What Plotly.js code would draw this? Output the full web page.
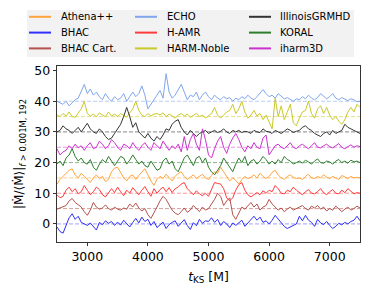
<!DOCTYPE html>
<html>
<head>
<meta charset="utf-8">
<script src="https://cdn.plot.ly/plotly-3.0.1.min.js"></script>
<style>html,body{margin:0;padding:0;background:#fff;}#chart{width:374px;height:291px;}</style>
</head>
<body>
<div id="chart"></div>
<script>
const tKS = [2500,2550,2600,2650,2700,2750,2800,2850,2900,2950,
3000,3050,3100,3150,3200,3250,3300,3350,3400,3450,
3500,3550,3600,3650,3700,3750,3800,3850,3900,3950,
4000,4050,4100,4150,4200,4250,4300,4350,4400,4450,
4500,4550,4600,4650,4700,4750,4800,4850,4900,4950,
5000,5050,5100,5150,5200,5250,5300,5350,5400,5450,
5500,5550,5600,5650,5700,5750,5800,5850,5900,5950,
6000,6050,6100,6150,6200,6250,6300,6350,6400,6450,
6500,6550,6600,6650,6700,6750,6800,6850,6900,6950,
7000,7050,7100,7150,7200,7250,7300,7350,7400,7450,7500];

const codeNames = ["Athena++","BHAC","BHAC Cart.","ECHO","H-AMR","HARM-Noble","IllinoisGRMHD","KORAL","iharm3D"];
const offsets = [15,0,5,40,10,35,30,20,25];

const athena = [13.0,14.5,15.5,16.5,17.5,18.0,16.0,15.0,16.5,15.5,
14.5,13.5,15.0,16.0,14.8,15.5,13.8,14.5,17.0,18.2,
18.5,16.5,15.0,14.0,15.5,16.0,14.5,15.8,17.0,18.0,
16.0,14.0,12.6,14.5,15.5,14.8,16.2,15.0,14.0,15.5,
16.5,17.0,15.5,14.5,15.2,16.0,14.8,15.5,16.2,15.0,
14.5,15.8,17.0,16.5,18.5,17.0,15.5,14.0,15.0,14.2,
13.0,14.5,15.5,14.8,15.2,16.0,15.0,16.5,15.5,14.8,
15.5,16.8,17.5,16.0,15.0,14.5,15.5,16.0,15.2,14.8,
15.0,14.5,15.5,16.2,15.0,14.8,15.5,15.0,16.0,15.2,
14.8,15.5,15.0,14.5,15.8,15.2,14.8,15.5,15.0,15.2,15.0];

const bhac = [-1.0,-2.5,-3.0,-0.5,2.0,3.3,1.5,2.5,0.5,0.0,
-0.5,0.3,-0.8,-2.0,0.5,-0.3,1.0,0.2,0.8,-0.5,
0.6,-0.4,1.2,0.0,-1.0,0.5,1.8,0.3,2.2,0.8,
1.5,-0.5,0.8,-1.2,-0.3,0.6,-1.5,-0.2,0.5,1.0,
-0.8,0.2,1.4,-0.5,-1.8,0.4,-0.6,1.5,0.2,1.0,
0.8,2.0,0.5,1.5,-0.5,0.8,0.0,-1.2,0.3,-0.5,
0.5,1.2,-0.8,0.2,1.5,2.5,1.2,2.2,0.5,1.0,
0.0,1.2,2.8,1.5,0.2,-0.8,-1.5,-1.0,-0.5,0.0,
2.5,1.0,2.8,1.2,0.5,-0.8,1.5,0.3,-0.2,0.8,
-0.5,-1.5,-0.8,0.2,-0.3,0.5,0.0,0.8,1.2,2.5,1.0];

const bhacCart = [4.8,5.2,5.5,6.0,7.5,8.3,7.0,6.2,5.5,4.0,
2.8,4.5,7.0,5.5,4.8,5.2,6.2,5.0,4.5,5.5,
4.8,4.5,5.2,4.8,6.5,5.5,6.8,5.2,4.2,5.0,
3.0,1.8,3.5,5.5,7.5,9.0,8.0,6.0,4.5,3.5,
3.0,4.0,5.2,3.8,4.5,6.0,5.0,4.0,5.5,4.5,
5.0,6.5,8.0,10.0,9.0,6.0,7.5,8.5,3.0,1.5,
3.5,5.5,4.8,6.0,7.0,5.5,6.5,4.5,5.5,6.0,
8.0,6.5,5.5,4.5,5.2,4.0,4.8,5.5,4.5,5.0,
5.5,6.0,5.0,4.5,5.8,5.2,6.0,4.8,5.5,4.2,
5.0,4.5,5.8,5.0,4.0,4.8,5.5,4.5,5.0,5.8,5.2];

const echo = [40.0,39.5,39.0,40.0,38.5,39.5,40.5,41.0,43.5,45.5,
42.5,44.0,42.0,43.0,41.5,40.5,42.5,41.0,40.0,41.5,
40.5,41.0,42.5,40.0,41.5,43.0,41.5,42.5,45.0,42.0,
37.5,39.0,40.5,42.0,43.5,41.0,49.0,43.0,41.0,42.0,
44.0,45.5,43.0,40.5,42.0,41.5,43.0,40.5,42.0,43.0,
41.5,40.5,42.0,41.0,40.5,41.5,40.8,41.2,40.0,41.0,
40.5,41.5,40.8,42.0,41.0,40.5,41.5,42.5,43.8,42.5,
41.5,42.0,41.0,42.5,41.5,40.8,41.2,40.5,40.0,40.8,
40.5,41.5,40.8,42.0,41.0,40.5,41.2,42.5,41.5,40.8,
41.5,42.5,41.0,40.5,41.2,40.8,40.2,40.8,40.5,39.8,40.0];

const hamr = [9.5,8.5,9.0,11.0,12.0,10.5,11.5,9.8,10.5,12.5,
11.0,9.5,10.5,12.0,11.2,9.5,8.8,10.0,11.5,10.2,
12.0,10.5,9.2,11.0,10.0,11.8,10.5,9.5,11.0,12.2,
10.5,9.0,11.5,10.0,11.2,12.0,10.5,11.8,10.2,11.5,
12.0,13.0,13.5,11.5,10.5,9.5,10.8,9.8,9.2,10.0,
9.0,11.5,13.5,13.2,13.0,11.5,8.5,7.5,8.5,11.0,
12.8,13.5,11.0,9.5,8.8,9.5,10.2,9.5,10.8,10.0,
11.0,10.5,12.5,11.5,10.0,9.8,11.0,10.5,12.0,11.0,
10.2,9.5,10.5,11.2,10.0,9.8,10.5,11.5,10.2,9.5,
10.5,11.2,10.0,9.8,11.0,10.2,11.5,10.5,9.8,10.2,10.0];

const harmNoble = [35.5,35.0,36.0,35.2,36.5,35.0,34.8,36.0,37.5,40.0,
36.0,35.2,35.8,35.0,36.2,35.5,35.0,36.5,35.2,35.8,
35.0,36.0,35.5,34.8,36.2,37.5,40.0,37.0,35.5,35.0,
36.0,35.2,35.8,36.0,35.5,36.2,35.0,35.8,35.2,34.5,
35.5,36.0,35.2,35.8,34.8,35.5,36.0,35.0,35.5,34.5,
35.2,36.0,38.0,35.5,34.5,35.5,36.5,37.0,39.0,36.0,
37.5,40.0,36.5,34.5,35.5,37.0,35.2,36.0,34.0,35.5,
33.5,31.0,41.0,35.0,38.5,34.0,36.5,39.0,33.0,32.0,
34.5,36.5,37.0,40.0,36.0,34.5,37.5,38.5,36.0,38.0,
35.5,34.0,35.0,33.5,32.5,34.0,36.5,38.0,36.5,39.0,38.0];

const illinois = [30.0,30.5,32.0,31.0,30.5,29.5,30.5,31.5,30.0,31.5,
32.8,31.0,30.0,29.5,31.0,30.0,28.5,27.5,28.0,29.5,
31.0,32.5,35.0,38.0,35.0,31.5,33.0,30.0,29.0,28.0,
29.5,28.0,27.0,28.5,27.5,29.0,31.0,30.5,32.5,33.5,
34.0,31.5,30.0,29.0,30.5,29.5,28.5,29.5,30.0,30.5,
29.5,30.0,30.5,29.8,30.2,31.0,30.0,29.5,30.5,30.0,
30.5,29.8,30.2,30.0,29.5,30.5,30.0,29.8,31.0,30.2,
30.0,29.5,30.5,30.0,29.5,30.2,31.0,30.5,29.8,30.2,
30.5,31.5,32.0,31.0,30.5,29.5,29.0,28.5,29.5,30.0,
29.0,30.5,29.5,30.0,30.5,32.5,31.5,31.0,30.5,30.0,29.5];

const koral = [19.5,20.5,19.0,21.5,22.5,24.5,22.0,20.5,21.5,20.0,
19.5,21.0,18.5,17.5,19.5,21.0,20.0,22.0,20.5,19.0,
20.5,22.0,21.5,19.5,20.8,22.5,21.0,19.5,20.5,19.0,
18.5,20.5,19.0,17.5,18.0,20.5,21.5,19.5,20.5,18.0,
17.0,19.5,21.5,22.5,20.5,19.0,21.5,22.0,20.0,21.5,
18.5,17.0,16.0,17.5,19.0,21.5,20.0,18.5,17.0,19.5,
21.5,20.0,22.0,19.0,20.5,21.0,19.5,20.5,22.0,21.0,
19.5,20.5,19.5,21.0,20.0,22.0,21.0,20.5,19.5,20.0,
20.5,19.8,20.8,20.2,19.5,20.5,21.2,20.0,19.8,20.5,
20.2,19.5,20.5,21.0,20.0,20.5,19.8,20.8,20.2,20.5,20.0];

const iharm = [24.5,22.5,23.5,24.0,25.5,24.5,26.0,24.8,25.5,24.0,
25.5,26.5,24.5,25.0,27.0,26.0,24.5,25.5,27.5,26.5,
25.0,24.0,26.0,25.5,24.5,26.5,25.0,24.0,25.5,26.5,
25.0,24.0,26.5,25.5,24.5,27.0,25.5,24.0,25.5,24.5,
26.0,23.5,28.5,24.0,27.5,29.5,26.0,24.0,31.0,27.5,
22.5,21.5,24.5,27.0,28.5,25.0,23.0,26.0,28.0,29.5,
27.5,25.0,23.5,25.5,24.5,26.5,25.0,24.5,28.0,29.0,
22.5,24.0,25.5,26.0,25.0,24.5,25.5,26.5,25.0,24.5,
25.5,26.0,25.2,24.5,25.5,26.5,25.0,24.8,25.5,26.0,
25.2,24.8,25.5,26.2,25.0,24.5,25.2,25.8,25.0,25.5,25.2];

const seriesValues = [athena,bhac,bhacCart,echo,hamr,harmNoble,illinois,koral,iharm];
const colors = ["#ffa33f","#3030f8","#b5524d","#7fa6ee","#ff3b3b","#c9c92a","#333333","#2e7d2e","#cc33cc"];
const dashColors = ["rgba(255,163,63,0.55)","rgba(48,48,248,0.45)","rgba(181,82,77,0.55)","rgba(127,166,238,0.55)","rgba(255,59,59,0.5)","rgba(201,201,42,0.55)","rgba(51,51,51,0.6)","rgba(46,125,46,0.55)","rgba(204,51,204,0.5)"];

const traces = [];
for (let k = 0; k < codeNames.length; k++) {
  traces.push({
    x: [tKS[0], tKS[tKS.length-1]], y: [offsets[k], offsets[k]],
    mode: 'lines', line: {color: dashColors[k], width: 1, dash: '4px,2px'},
    showlegend: false, hoverinfo: 'skip'
  });
}
for (let k = 0; k < codeNames.length; k++) {
  traces.push({
    x: tKS, y: seriesValues[k], name: codeNames[k],
    mode: 'lines', line: {color: colors[k], width: 1}, showlegend: false
  });
}

// manual legend (3 columns, column-major), in pixel -> paper coordinates
const M = {l: 57, r: 14, t: 66, b: 49};
const W = 374, H = 291;
const pw = W - M.l - M.r, ph = H - M.t - M.b;
const px = v => (v - M.l) / pw;
const py = v => (H - M.b - v) / ph;
const shapes = [{
  type: 'rect', xref: 'paper', yref: 'paper',
  x0: px(27), x1: px(354), y0: py(57), y1: py(10),
  fillcolor: '#f2f2f2', line: {width: 0}, layer: 'below'
}];
const annotations = [];
const colLineX = [29, 135, 249];
const colTextX = [59, 165, 278];
const rowY = [16.8, 32.6, 48.4];
for (let k = 0; k < codeNames.length; k++) {
  const c = Math.floor(k / 3), r = k % 3;
  shapes.push({
    type: 'line', xref: 'paper', yref: 'paper',
    x0: px(colLineX[c]), x1: px(colLineX[c] + 22), y0: py(rowY[r]), y1: py(rowY[r]),
    line: {color: colors[k], width: 2}
  });
  annotations.push({
    xref: 'paper', yref: 'paper', x: px(colTextX[c]), y: py(rowY[r]),
    xanchor: 'left', yanchor: 'middle', showarrow: false,
    text: codeNames[k], font: {family: 'DejaVu Sans', size: 10, color: '#000'}
  });
}

const layout = {
  width: W, height: H,
  margin: M,
  paper_bgcolor: '#ffffff', plot_bgcolor: '#ffffff',
  font: {family: 'DejaVu Sans', size: 12.5, color: '#000'},
  showlegend: false,
  shapes: shapes, annotations: annotations,
  xaxis: {
    range: [2500, 7500], tickvals: [3000,4000,5000,6000,7000],
    ticks: 'outside', ticklen: 3.5, tickwidth: 0.8, tickcolor: '#000',
    showline: true, linecolor: '#000', linewidth: 0.8, mirror: true,
    showgrid: false, zeroline: false,
    tickfont: {size: 12.5},
    title: {text: '<i>t</i><sub>KS</sub> [M]', font: {size: 12.5}, standoff: 8}
  },
  yaxis: {
    range: [-5.9, 51.5], tickvals: [0,10,20,30,40,50],
    ticks: 'outside', ticklen: 3.5, tickwidth: 0.8, tickcolor: '#000',
    showline: true, linecolor: '#000', linewidth: 0.8, mirror: true,
    showgrid: false, zeroline: false,
    tickfont: {size: 12.5},
    title: {text: '|Ṁ/⟨Ṁ⟩|<sub><i>f</i> > 0.001M, 192</sub>', font: {size: 12}, standoff: 7}
  }
};

Plotly.newPlot('chart', traces, layout, {staticPlot: true, displayModeBar: false});
</script>
</body>
</html>
